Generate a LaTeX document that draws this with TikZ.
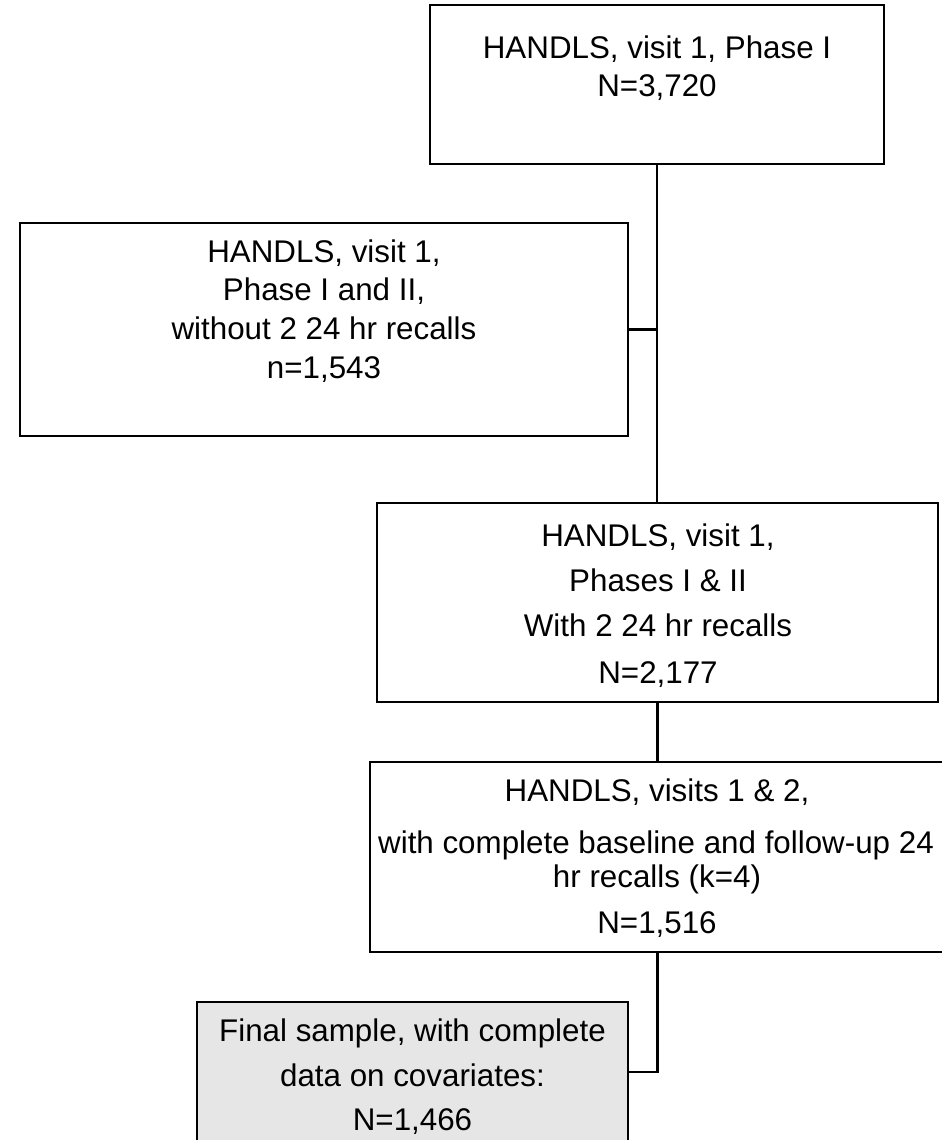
\documentclass[tikz,border=0pt]{standalone}
\usepackage{fontspec}
\setmainfont{Liberation Sans}
\begin{document}
\begin{tikzpicture}[x=0.75pt,y=-0.75pt,
  box/.style={draw=black, line width=1.9pt, inner sep=0pt, fill=white},
  finalbox/.style={box, fill=boxgray},
  conn/.style={draw=black, line width=1.9pt},
  txt/.style={anchor=base, inner sep=0pt, font=\fontsize{23.5pt}{28pt}\selectfont}]
\definecolor{boxgray}{HTML}{E6E6E6}
\useasboundingbox (0,0) rectangle (942,1140);
\clip (0,0) rectangle (942,1140);
\fill[white] (0,0) rectangle (942,1140);
% boxes
\node[box, minimum width=340.5pt, minimum height=119.25pt] (b1) at (657,84.5) {};
\node[box, minimum width=456pt, minimum height=159.75pt] (b2) at (324,329.5) {};
\node[box, minimum width=420.75pt, minimum height=149.25pt] (b3) at (657.5,602.5) {};
\node[box, minimum width=433.5pt, minimum height=142.5pt] (b4) at (659,857) {};
\node[finalbox, minimum width=323.25pt, minimum height=105pt] (b5) at (412.5,1072) {};
% connectors
\draw[conn] (b1.south) -- (b1.south |- b3.north);
\draw[conn] (b2.east) -- (b2.east -| b3.north);
\draw[conn] (b3.south) -- (b3.south |- b4.north);
\coordinate (bend) at (b3.south |- b5.east);
\draw[conn] (b3.south |- b4.south) -- (bend) -- (b5.east);
% texts
\node[txt] (t1a) at (657,58) {HANDLS, visit 1, Phase I};
\node[txt] (t1b) at (657,96) {N=3,720};
\node[txt] (t2a) at (324,262) {HANDLS, visit 1,};
\node[txt] (t2b) at (324,300) {Phase I and II,};
\node[txt] (t2c) at (324,339) {without 2 24 hr recalls};
\node[txt] (t2d) at (324,378) {n=1,543};
\node[txt] (t3a) at (658,546) {HANDLS, visit 1,};
\node[txt] (t3b) at (658,591) {Phases I \& II};
\node[txt] (t3c) at (658,636) {With 2 24 hr recalls};
\node[txt] (t3d) at (658,683) {N=2,177};
\node[txt] (t4a) at (657,801) {HANDLS, visits 1 \& 2,};
\node[txt] (t4b) at (656,853) {with complete baseline and follow-up 24};
\node[txt] (t4c) at (657,887) {hr recalls (k=4)};
\node[txt] (t4d) at (657,933) {N=1,516};
\node[txt] (t5a) at (412.5,1041) {Final sample, with complete};
\node[txt] (t5b) at (412.5,1086) {data on covariates:};
\node[txt] (t5c) at (412.5,1130) {N=1,466};
\end{tikzpicture}
\end{document}
